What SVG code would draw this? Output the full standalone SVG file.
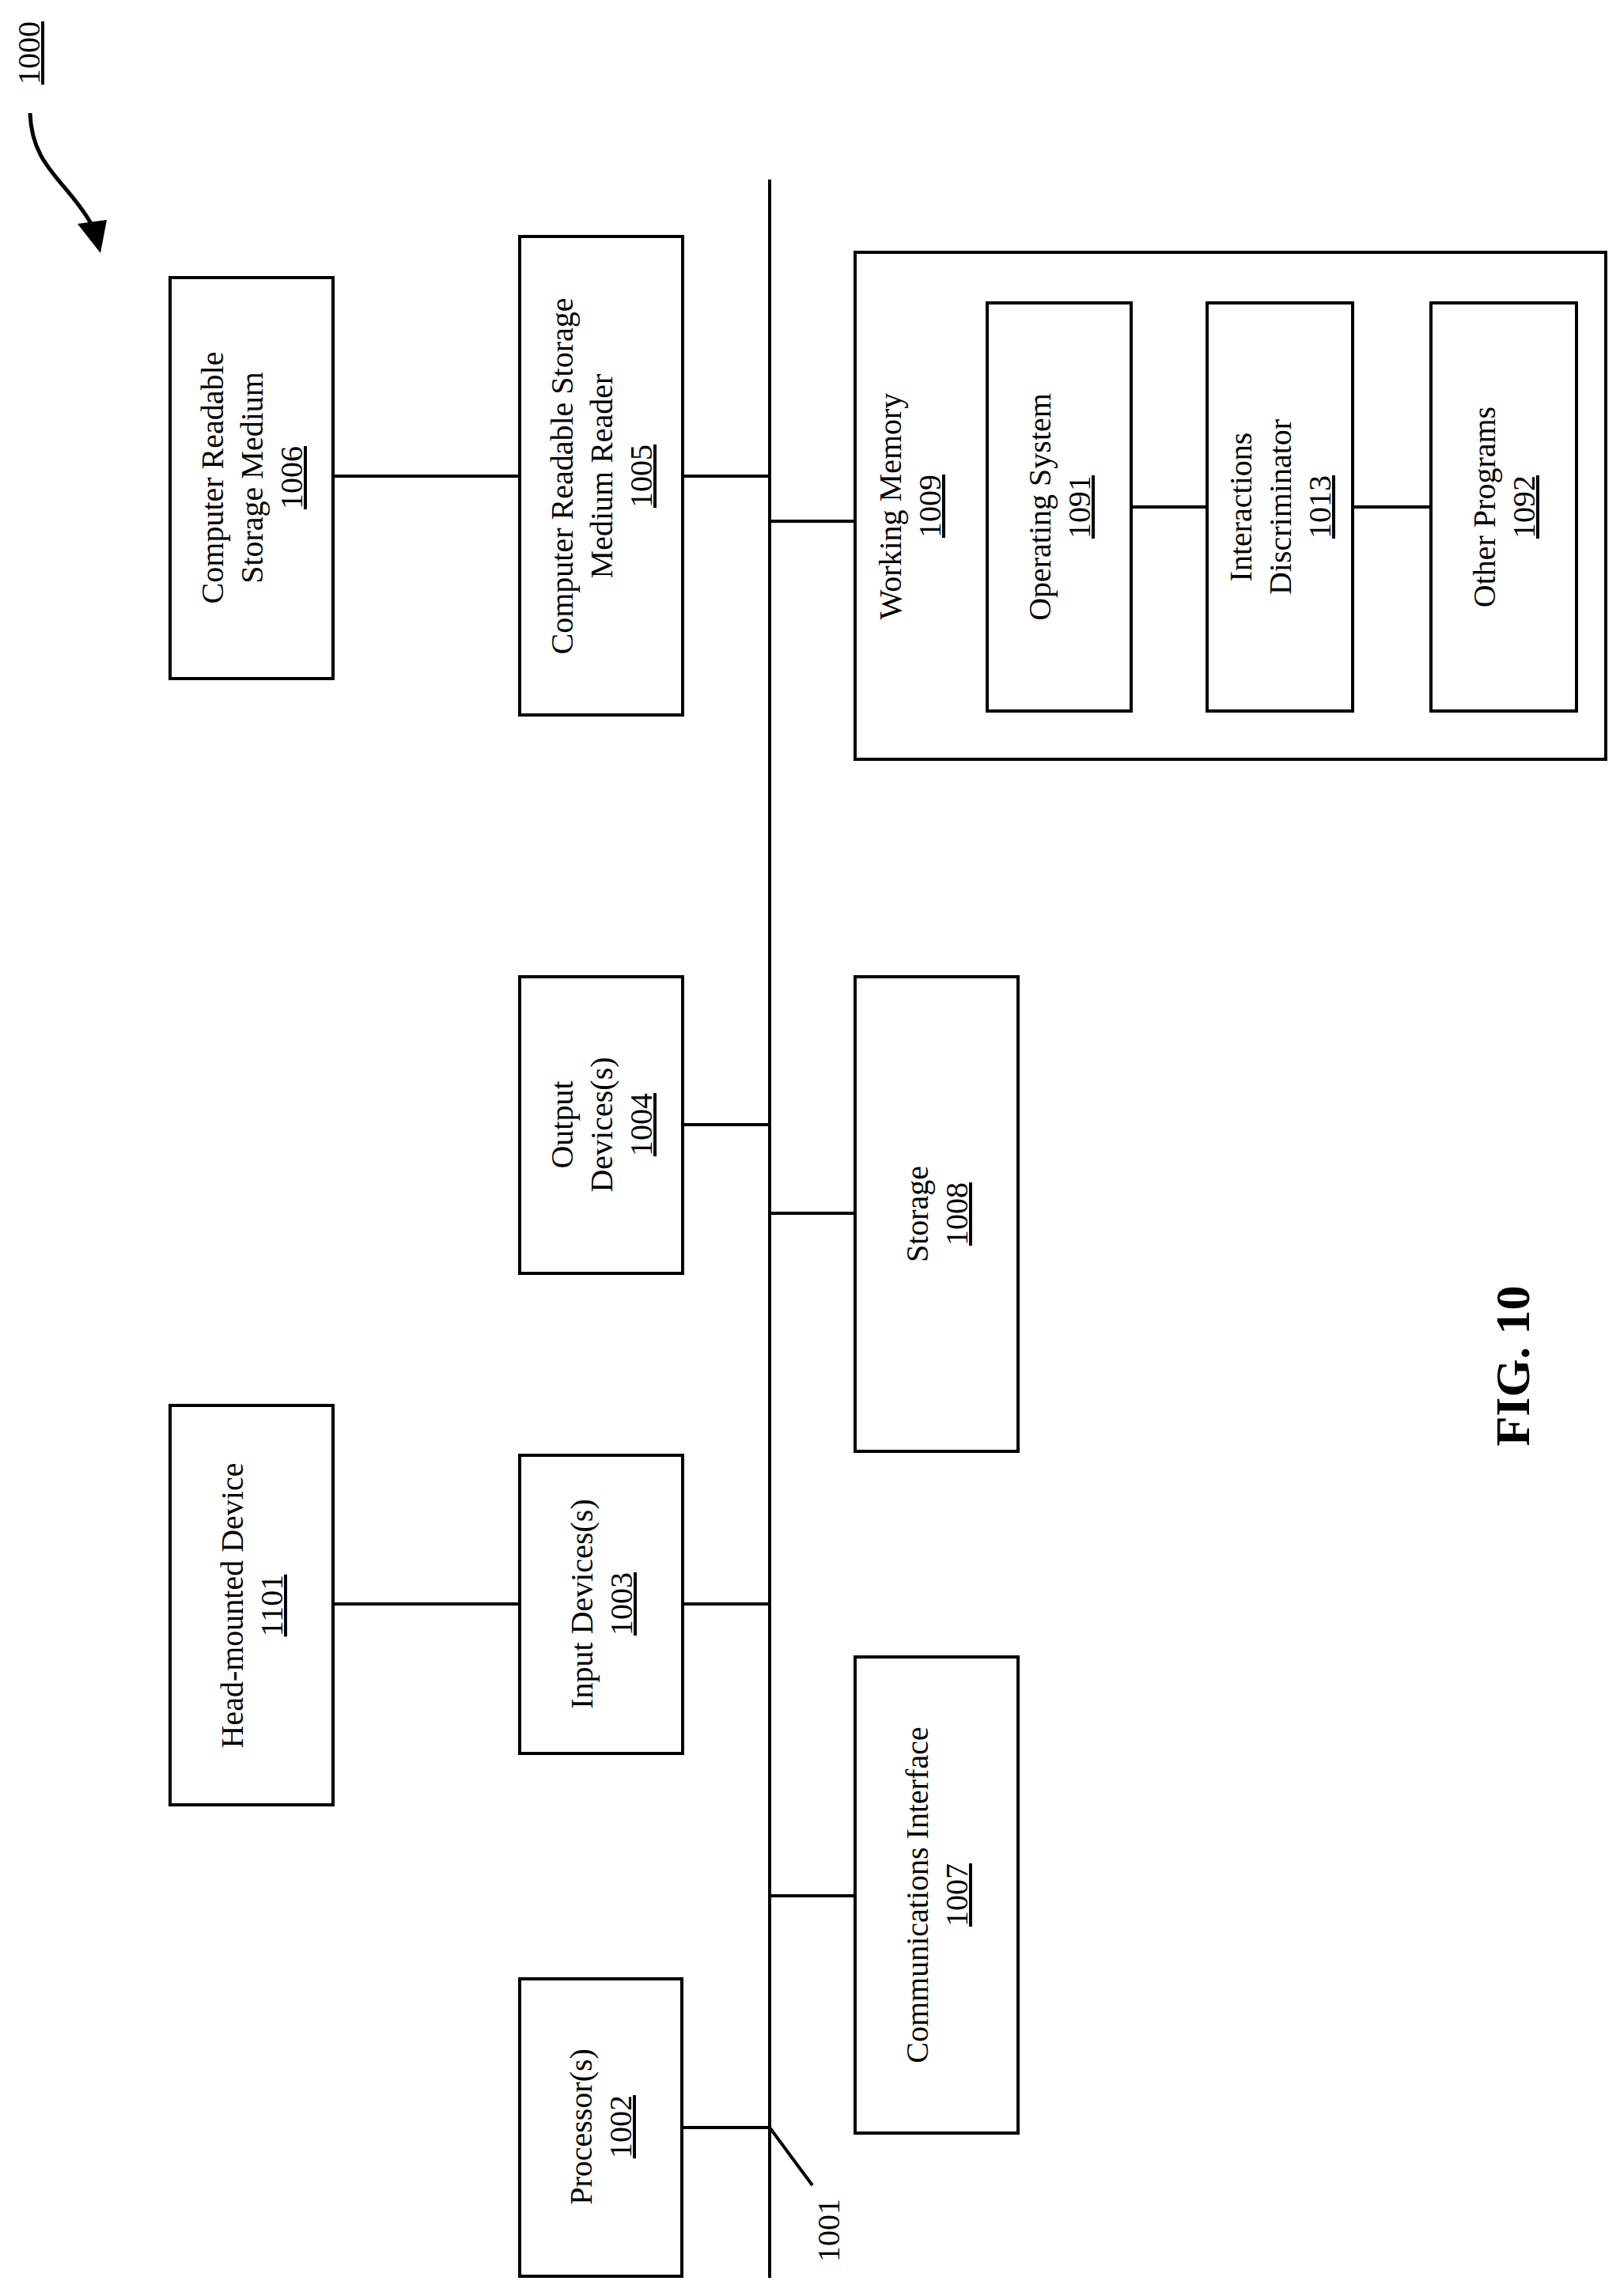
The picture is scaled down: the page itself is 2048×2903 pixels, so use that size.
<svg xmlns="http://www.w3.org/2000/svg" width="2048" height="2903" viewBox="0 0 2048 2903">
<defs>
<style>
.b{fill:none;stroke:#000;stroke-width:4}
.c{stroke:#000;stroke-width:4;fill:none}
text{font-family:"Liberation Serif","Times New Roman",serif;font-size:40px;fill:#000;text-anchor:middle}
.u{text-decoration:underline}
</style>
<marker id="ah" viewBox="0 0 10 10" refX="8" refY="5" markerWidth="10" markerHeight="10" markerUnits="userSpaceOnUse" orient="auto"><path d="M0,0L10,5L0,10z"/></marker>
</defs>
<rect width="2048" height="2903" fill="#fff"/>
<g id="connectors">
<line class="c" x1="973" y1="227" x2="973" y2="2880"/>
<line class="c" x1="862" y1="2690" x2="973" y2="2690"/>
<line class="c" x1="973" y1="2690" x2="1027" y2="2763"/>
<line class="c" x1="973" y1="2397" x2="1081" y2="2397"/>
<line class="c" x1="421" y1="2028" x2="657" y2="2028"/>
<line class="c" x1="863" y1="2028" x2="973" y2="2028"/>
<line class="c" x1="973" y1="1534" x2="1081" y2="1534"/>
<line class="c" x1="863" y1="1422" x2="973" y2="1422"/>
<line class="c" x1="421" y1="602" x2="657" y2="602"/>
<line class="c" x1="863" y1="602" x2="973" y2="602"/>
<line class="c" x1="973" y1="659" x2="1081" y2="659"/>
<line class="c" x1="1430" y1="641" x2="1526" y2="641"/>
<line class="c" x1="1710" y1="641" x2="1809" y2="641"/>
<path d="M38,143 C40,200 70,220 100,260 C115,280 122,295 124,305" style="fill:none;stroke:#000;stroke-width:5"/>
<path d="M98,283 L135,278 L127,320 z"/>
</g>
<g id="n1000"><text class="u" transform="translate(50,67) rotate(-90)">1000</text></g>
<g id="n1001"><text transform="translate(1061,2820) rotate(-90)">1001</text></g>
<g id="n1002"><rect class="b" x="657" y="2502" width="205" height="376"/>
<text transform="translate(759,2689) rotate(-90)"><tspan x="0" y="-11">Processor(s)</tspan><tspan class="u" x="0" y="39">1002</tspan></text></g>
<g id="n1101"><rect class="b" x="215" y="1777" width="206" height="505"/>
<text transform="translate(318,2030) rotate(-90)"><tspan x="0" y="-11">Head-mounted Device</tspan><tspan class="u" x="0" y="39">1101</tspan></text></g>
<g id="n1003"><rect class="b" x="657" y="1840" width="206" height="377"/>
<text transform="translate(760,2028) rotate(-90)"><tspan x="0" y="-11">Input Devices(s)</tspan><tspan class="u" x="0" y="39">1003</tspan></text></g>
<g id="n1004"><rect class="b" x="657" y="1235" width="206" height="375"/>
<text transform="translate(760,1422) rotate(-90)"><tspan x="0" y="-36">Output</tspan><tspan x="0" y="14">Devices(s)</tspan><tspan class="u" x="0" y="64">1004</tspan></text></g>
<g id="n1006"><rect class="b" x="215" y="351" width="206" height="507"/>
<text transform="translate(318,604) rotate(-90)"><tspan x="0" y="-36">Computer Readable</tspan><tspan x="0" y="14">Storage Medium</tspan><tspan class="u" x="0" y="64">1006</tspan></text></g>
<g id="n1005"><rect class="b" x="657" y="299" width="206" height="605"/>
<text transform="translate(760,602) rotate(-90)"><tspan x="0" y="-36">Computer Readable Storage</tspan><tspan x="0" y="14">Medium Reader</tspan><tspan class="u" x="0" y="64">1005</tspan></text></g>
<g id="n1009"><rect class="b" x="1081" y="319" width="949" height="641"/>
<text transform="translate(1150,640) rotate(-90)"><tspan x="0" y="-11">Working Memory</tspan><tspan class="u" x="0" y="39">1009</tspan></text></g>
<g id="n1091"><rect class="b" x="1248" y="383" width="182" height="516"/>
<text transform="translate(1339,641) rotate(-90)"><tspan x="0" y="-11">Operating System</tspan><tspan class="u" x="0" y="39">1091</tspan></text></g>
<g id="n1013"><rect class="b" x="1526" y="383" width="184" height="516"/>
<text transform="translate(1618,641) rotate(-90)"><tspan x="0" y="-36">Interactions</tspan><tspan x="0" y="14">Discriminator</tspan><tspan class="u" x="0" y="64">1013</tspan></text></g>
<g id="n1092"><rect class="b" x="1809" y="383" width="184" height="516"/>
<text transform="translate(1901,641) rotate(-90)"><tspan x="0" y="-11">Other Programs</tspan><tspan class="u" x="0" y="39">1092</tspan></text></g>
<g id="n1008"><rect class="b" x="1081" y="1235" width="206" height="600"/>
<text transform="translate(1184,1535) rotate(-90)"><tspan x="0" y="-11">Storage</tspan><tspan class="u" x="0" y="39">1008</tspan></text></g>
<g id="n1007"><rect class="b" x="1081" y="2095" width="206" height="602"/>
<text transform="translate(1184,2396) rotate(-90)"><tspan x="0" y="-11">Communications Interface</tspan><tspan class="u" x="0" y="39">1007</tspan></text></g>
<g id="fig"><text transform="translate(1933,1727) rotate(-90)" style="font-size:62px;font-weight:bold">FIG. 10</text></g>
</svg>
